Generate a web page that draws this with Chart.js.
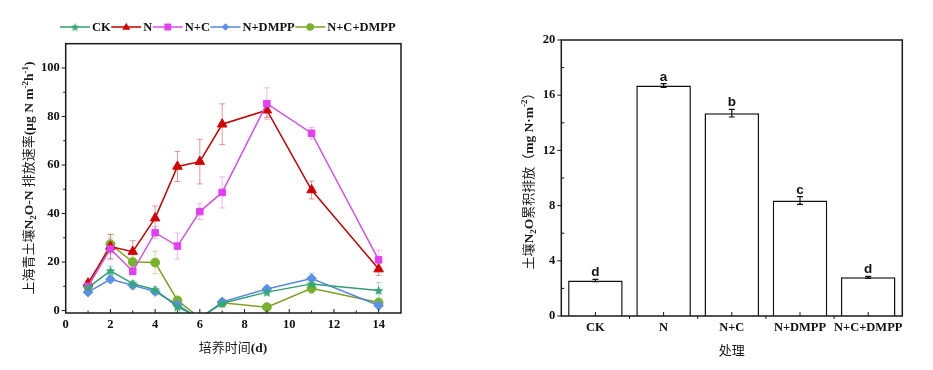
<!DOCTYPE html>
<html><head><meta charset="utf-8">
<script src="https://cdn.jsdelivr.net/npm/chart.js@4.4.1/dist/chart.umd.min.js"></script>
<style>
html,body{margin:0;padding:0;background:#fff;}
#wrap{position:relative;width:933px;height:370px;overflow:hidden;}
#c1{position:absolute;left:0;top:0;}
#c2{position:absolute;left:466px;top:0;}
</style></head><body>
<div id="wrap"><canvas id="c1" width="466" height="370"></canvas><canvas id="c2" width="467" height="370"></canvas></div>
<script>
// ---------- data: left panel (emission rate over incubation days) ----------
const days = [1,2,3,4,5,6,7,9,11,14];
const ckRate  = [9.5,16.4,11.1,8.6,1.5,-3.0,3.0,7.6,11.0,8.3];
const nRate   = [11.3,26.4,24.3,38.1,59.4,61.4,76.8,82.6,49.7,17.1];
const ncRate  = [10.0,25.4,16.2,32.1,26.6,40.8,48.7,85.3,73.1,20.9];
const ndRate  = [7.6,12.9,10.4,7.8,2.4,-3.5,3.6,8.9,13.2,2.1];
const ncdRate = [10.1,27.4,20.0,19.8,4.2,-3.0,3.2,1.4,9.2,3.3];
const ckErr  = [1.0,2.0,1.2,1.2,1.0,0,1.0,1.2,1.5,3.2];
const nErr   = [1.0,5.0,4.5,5.0,6.2,9.2,8.4,3.0,3.7,2.6];
const ncErr  = [1.0,4.5,1.5,2.5,5.4,3.2,6.4,6.5,2.4,4.0];
const ndErr  = [0.8,1.0,1.0,1.0,1.0,0,1.0,1.2,2.2,1.0];
const ncdErr = [1.0,4.0,1.2,4.6,1.0,0,1.0,0.8,2.2,1.0];
const xTicks = [0,2,4,6,8,10,12,14];
const yTicks = [0,20,40,60,80,100];

// ---------- data: right panel (cumulative emission) ----------
const treatments = ['CK','N','N+C','N+DMPP','N+C+DMPP'];
const cumEmission = [2.57,16.70,14.70,8.37,2.80];
const cumErr = [0.08,0.14,0.28,0.28,0.07];
const sigLetters = ['d','a','b','c','d'];
const barYTicks = [0,4,8,12,16,20];

const SERIF = '"Liberation Serif","Times New Roman",serif';
const CJK = '"Noto Sans CJK SC","Noto Sans CJK JP",sans-serif';
const tickFont = {family: SERIF, weight: 'bold', size: 12.5};

function starImg(r, color){
  const c = document.createElement('canvas');
  const s = Math.ceil(r*2+2); c.width = s; c.height = s;
  const g = c.getContext('2d'); g.fillStyle = color; g.beginPath();
  for (let i=0;i<10;i++){ const a=-Math.PI/2+i*Math.PI/5; const rr=i%2? r*0.45 : r;
    g.lineTo(s/2+rr*Math.cos(a), s/2+0.5+rr*Math.sin(a)); }
  g.closePath(); g.fill(); return c;
}
function rgba(hex,a){const n=parseInt(hex.slice(1),16);return `rgba(${n>>16},${(n>>8)&255},${n&255},${a})`;}

const series = [
  {label:'CK', vals:ckRate, errs:ckErr, line:'#2f9f73', fill:'#35a875', style:starImg(5.2,'#35a875'), lstyle:starImg(4.5,'#35a875'), r:5, order:1},
  {label:'N', vals:nRate, errs:nErr, line:'#c40000', fill:'#d40000', style:'triangle', r:5.5, order:4},
  {label:'N+C', vals:ncRate, errs:ncErr, line:'#d452e4', fill:'#e33ff0', style:'rect', r:4.6, order:3},
  {label:'N+DMPP', vals:ndRate, errs:ndErr, line:'#5a86e3', fill:'#5d8ff0', style:'rectRot', r:4.8, order:2},
  {label:'N+C+DMPP', vals:ncdRate, errs:ncdErr, line:'#80a024', fill:'#76b22a', style:'circle', r:4.4, order:5}
];

function drawRuns(ctx, runs, cx, cy, rotate){
  ctx.save(); ctx.translate(cx,cy); if (rotate) ctx.rotate(-Math.PI/2);
  let total=0; runs.forEach(r=>{ctx.font=r.f; r.w=ctx.measureText(r.t).width; total+=r.w;});
  let x=-total/2; ctx.textBaseline='alphabetic'; ctx.fillStyle='#1a1a1a'; ctx.textAlign='left';
  runs.forEach(r=>{ctx.font=r.f; ctx.fillText(r.t,x,r.dy||0); x+=r.w;});
  ctx.restore();
}

function legendMarker(ctx, s, x, y){
  const r=3.8; ctx.fillStyle=s.fill; ctx.strokeStyle=s.line; ctx.lineWidth=1;
  if (typeof s.style !== 'string'){ const im=s.lstyle||s.style; ctx.drawImage(im, x-im.width/2, y-im.height/2); return; }
  ctx.beginPath();
  if (s.style==='triangle'){ ctx.moveTo(x,y-r*1.1); ctx.lineTo(x+r*1.05,y+r*0.75); ctx.lineTo(x-r*1.05,y+r*0.75); ctx.closePath(); }
  else if (s.style==='rect'){ ctx.rect(x-r*0.9,y-r*0.9,r*1.8,r*1.8); }
  else if (s.style==='rectRot'){ ctx.moveTo(x,y-r); ctx.lineTo(x+r,y); ctx.lineTo(x,y+r); ctx.lineTo(x-r,y); ctx.closePath(); }
  else { ctx.arc(x,y,r,0,Math.PI*2); }
  ctx.fill();
}

const leftDeco = {
  id:'leftDeco',
  beforeDatasetsDraw(ch){
    const ctx=ch.ctx, a=ch.chartArea, xs=ch.scales.x, ys=ch.scales.y;
    ctx.save(); ctx.beginPath(); ctx.rect(a.left,a.top,a.right-a.left,a.bottom-a.top); ctx.clip();
    ch.data.datasets.forEach(ds=>{
      ctx.strokeStyle=rgba(ds.borderColor,0.4); ctx.lineWidth=1;
      ds.data.forEach((p,i)=>{ const e=ds.errs[i]; if(!e) return;
        const px=xs.getPixelForValue(p.x), t=ys.getPixelForValue(p.y+e), b=ys.getPixelForValue(p.y-e);
        ctx.beginPath(); ctx.moveTo(px,t); ctx.lineTo(px,b);
        ctx.moveTo(px-3,t); ctx.lineTo(px+3,t); ctx.moveTo(px-3,b); ctx.lineTo(px+3,b); ctx.stroke(); });
    });
    ctx.restore();
  },
  afterDraw(ch){
    const ctx=ch.ctx, a=ch.chartArea, xs=ch.scales.x, ys=ch.scales.y;
    ctx.save(); ctx.strokeStyle='#1a1a1a'; ctx.lineWidth=1.5;
    ctx.strokeRect(a.left,a.top,a.right-a.left,a.bottom-a.top);
    ctx.lineWidth=1; ctx.beginPath();
    yTicks.forEach(v=>{const y=ys.getPixelForValue(v); ctx.moveTo(a.left,y); ctx.lineTo(a.left-4,y);
      const m=ys.getPixelForValue(v+10); if (m>a.top+1){ctx.moveTo(a.left,m); ctx.lineTo(a.left-2.5,m);} });
    xTicks.forEach(v=>{const x=xs.getPixelForValue(v); ctx.moveTo(x,a.bottom); ctx.lineTo(x,a.bottom-4);
      const m=xs.getPixelForValue(v+1); if (m<a.right-1){ctx.moveTo(m,a.bottom); ctx.lineTo(m,a.bottom-2.5);} });
    ctx.stroke();
    // legend
    let x=60; const y=27;
    ch.data.datasets.forEach(ds=>{
      const s=series.find(q=>q.label===ds.label);
      ctx.strokeStyle=s.line; ctx.lineWidth=1.5; ctx.beginPath(); ctx.moveTo(x,y); ctx.lineTo(x+30,y); ctx.stroke();
      legendMarker(ctx,s,x+15,y);
      x+=32; ctx.font='bold 12.5px '+SERIF; ctx.fillStyle='#111'; ctx.textBaseline='middle'; ctx.textAlign='left';
      ctx.fillText(ds.label,x,y+0.5); x+=ctx.measureText(ds.label).width+0.5;
    });
    const CJ='13px '+CJK, B='bold 13.5px '+SERIF, S='bold 9px '+SERIF;
    drawRuns(ctx,[{t:'上海青土壤',f:CJ},{t:'N',f:B},{t:'2',f:S,dy:3},{t:'O-N ',f:B},{t:'排放速率',f:CJ},
      {t:'(μg N m',f:B},{t:'-2',f:S,dy:-5.5},{t:'h',f:B},{t:'-1',f:S,dy:-5.5},{t:')',f:B}], 33, 178, true);
    drawRuns(ctx,[{t:'培养时间',f:CJ},{t:'(d)',f:B}], 233, 352, false);
    ctx.restore();
  }
};

new Chart(document.getElementById('c1'), {
  type:'line',
  data:{datasets: series.map(s=>({
    label:s.label, data: days.map((d,i)=>({x:d,y:s.vals[i]})), errs:s.errs,
    borderColor:s.line, backgroundColor:s.fill, pointBackgroundColor:s.fill, pointBorderColor:s.fill,
    pointStyle:s.style, pointRadius:s.r, pointBorderWidth:1, borderWidth:1.5, tension:0, clip:0, order:s.order
  }))},
  options:{
    responsive:false, animation:false, events:[],
    layout:{padding:{left:0,right:65,top:43.7,bottom:0}},
    plugins:{legend:{display:false}, tooltip:{enabled:false}},
    scales:{
      x:{type:'linear', min:0, max:15, grid:{display:false, drawTicks:false}, border:{display:false},
         afterBuildTicks:s=>{s.ticks=xTicks.map(v=>({value:v}));},
         afterFit:s=>{s.height=57;},
         ticks:{font:tickFont, color:'#111', padding:4.5, maxRotation:0, callback:v=>String(v)}},
      y:{type:'linear', min:-1, max:110, grid:{display:false, drawTicks:false}, border:{display:false},
         afterBuildTicks:s=>{s.ticks=yTicks.map(v=>({value:v}));},
         afterFit:s=>{s.width=65.7;},
         ticks:{font:tickFont, color:'#111', padding:6, callback:v=>String(v)}}
    }
  },
  plugins:[leftDeco]
});

const rightDeco = {
  id:'rightDeco',
  afterDatasetsDraw(ch){
    const ctx=ch.ctx, xs=ch.scales.x, ys=ch.scales.y;
    ctx.save(); ctx.strokeStyle='#111'; ctx.lineWidth=1.2;
    cumEmission.forEach((v,i)=>{
      const x=xs.getPixelForValue(i), t=ys.getPixelForValue(v+cumErr[i]), b=ys.getPixelForValue(v-cumErr[i]);
      ctx.beginPath(); ctx.moveTo(x,t); ctx.lineTo(x,b); ctx.moveTo(x-3,t); ctx.lineTo(x+3,t);
      ctx.moveTo(x-3,b); ctx.lineTo(x+3,b); ctx.stroke();
      ctx.font='bold 13.5px "Liberation Sans",Arial,sans-serif'; ctx.fillStyle='#111';
      ctx.textAlign='center'; ctx.textBaseline='alphabetic';
      ctx.fillText(sigLetters[i], x, t-3);
    });
    ctx.restore();
  },
  afterDraw(ch){
    const ctx=ch.ctx, a=ch.chartArea, xs=ch.scales.x, ys=ch.scales.y;
    ctx.save(); ctx.strokeStyle='#1a1a1a'; ctx.lineWidth=1.5;
    ctx.strokeRect(a.left,a.top,a.right-a.left,a.bottom-a.top);
    ctx.lineWidth=1; ctx.beginPath();
    barYTicks.forEach(v=>{const y=ys.getPixelForValue(v); ctx.moveTo(a.left,y); ctx.lineTo(a.left-4,y);
      const m=ys.getPixelForValue(v+2); if (m>a.top+1){ctx.moveTo(a.left,m); ctx.lineTo(a.left+3,m);} });
    treatments.forEach((t,i)=>{const x=xs.getPixelForValue(i); ctx.moveTo(x,a.bottom); ctx.lineTo(x,a.bottom-4);
      if (i<treatments.length-1){const m=(x+xs.getPixelForValue(i+1))/2; ctx.moveTo(m,a.bottom); ctx.lineTo(m,a.bottom+3);} });
    ctx.stroke();
    const CJ='13px '+CJK, B='bold 13.5px '+SERIF, S='bold 9px '+SERIF;
    drawRuns(ctx,[{t:'土壤',f:CJ},{t:'N',f:B},{t:'2',f:S,dy:3},{t:'O',f:B},{t:'累积排放（',f:CJ},
      {t:'mg N·m',f:B},{t:'-2',f:S,dy:-5.5},{t:'）',f:CJ}], 66.5, 178, true);
    drawRuns(ctx,[{t:'处理',f:CJ}], (a.left+a.right)/2, 355, false);
    ctx.restore();
  }
};

new Chart(document.getElementById('c2'), {
  type:'bar',
  data:{labels:treatments, datasets:[{data:cumEmission, backgroundColor:'#ffffff', borderColor:'#111',
    borderWidth:1.5, barPercentage:0.8, categoryPercentage:1}]},
  options:{
    responsive:false, animation:false, events:[],
    layout:{padding:{left:0,right:30.7,top:40,bottom:0}},
    plugins:{legend:{display:false}, tooltip:{enabled:false}},
    scales:{
      x:{grid:{display:false, drawTicks:false}, border:{display:false},
         afterFit:s=>{s.height=54;},
         ticks:{font:tickFont, color:'#111', padding:4.5, maxRotation:0, autoSkip:false}},
      y:{min:0, max:20, grid:{display:false, drawTicks:false}, border:{display:false},
         afterBuildTicks:s=>{s.ticks=barYTicks.map(v=>({value:v}));},
         afterFit:s=>{s.width=95.3;},
         ticks:{font:tickFont, color:'#111', padding:6, callback:v=>String(v)}}
    }
  },
  plugins:[rightDeco]
});
</script>
</body></html>
